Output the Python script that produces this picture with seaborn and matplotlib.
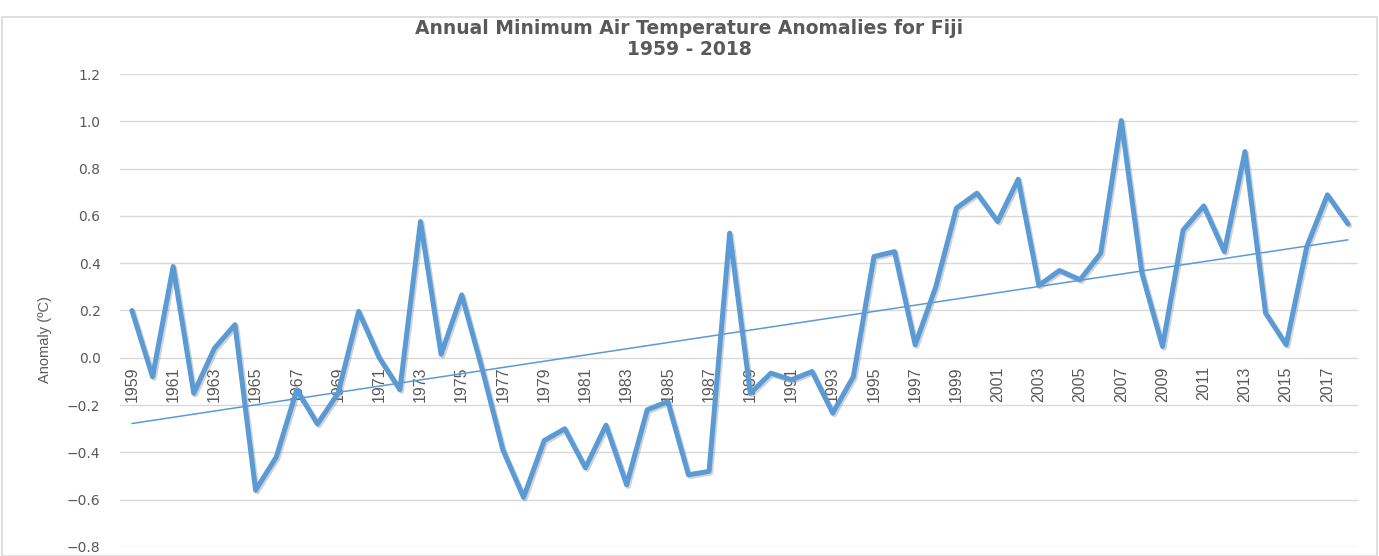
import matplotlib
matplotlib.use("Agg")
import matplotlib.pyplot as plt
import matplotlib.patheffects as pe
import numpy as np
import pandas as pd
import seaborn as sns

years = list(range(1959, 2019))
anomaly = [
    0.20, -0.08, 0.386, -0.15, 0.04, 0.14, -0.56, -0.42, -0.135, -0.28,
    -0.15, 0.196, 0.00, -0.135, 0.576, 0.015, 0.266, -0.05, -0.39, -0.59,
    -0.35, -0.30, -0.465, -0.285, -0.537, -0.22, -0.185, -0.495, -0.48, 0.527,
    -0.15, -0.065, -0.093, -0.058, -0.234, -0.08, 0.428, 0.449, 0.055, 0.30,
    0.633, 0.696, 0.576, 0.755, 0.306, 0.369, 0.33, 0.442, 1.003, 0.358,
    0.048, 0.54, 0.642, 0.449, 0.872, 0.189, 0.055, 0.47, 0.689, 0.566,
]
y_ticks = [1.2, 1.0, 0.8, 0.6, 0.4, 0.2, 0.0, -0.2, -0.4, -0.6, -0.8]
x_labels = years[::2]

BLUE = "#5B9BD5"
GREY = "#595959"
NARROW = ["Liberation Sans Narrow", "Liberation Sans", "DejaVu Sans"]


def main():
    df = pd.DataFrame({"Year": years, "Anomaly": anomaly})
    slope, icpt = np.polyfit(df["Year"], df["Anomaly"], 1)
    df["Trend"] = slope * df["Year"] + icpt

    sns.set_style("white")
    fig = plt.figure(figsize=(13.79, 5.56), dpi=100)
    ax = fig.add_axes([0.087, 0.0162, 0.898, 0.8507])

    sns.lineplot(data=df, x="Year", y="Anomaly", ax=ax, color=BLUE,
                 linewidth=3.6, zorder=3,
                 path_effects=[pe.SimpleLineShadow(offset=(1.2, -1.2),
                                                   alpha=0.35, shadow_color="gray"),
                               pe.Normal()])
    sns.lineplot(data=df, x="Year", y="Trend", ax=ax, color=BLUE,
                 linewidth=1.1, zorder=4)

    ax.set_xlim(1958.42, 2018.5)
    ax.set_ylim(-0.8, 1.2)
    ax.set_yticks(y_ticks)
    ax.set_yticklabels([f"{v:.1f}".replace("-", "\u2212") if v < 0 else f"{v:.1f}"
                        for v in y_ticks])
    ax.grid(axis="y", color="#D9D9D9", linewidth=1.0)
    ax.set_axisbelow(True)

    for s in ax.spines.values():
        s.set_visible(False)
    ax.spines["bottom"].set_position(("data", 0))

    ax.set_xticks(x_labels)
    ax.set_xticklabels([str(y) for y in x_labels], rotation=90,
                       family=NARROW, fontsize=11.5, color=GREY)
    ax.tick_params(axis="x", length=0, pad=6)
    ax.tick_params(axis="y", length=0, pad=14, labelsize=10, labelcolor=GREY)

    ax.set_xlabel("")
    ax.set_ylabel("Anomaly (\u00baC)", family=NARROW, fontsize=10.5, color=GREY)
    ax.yaxis.set_label_coords(-0.055, 0.4376)

    fig.text(0.5, 0.966, "Annual Minimum Air Temperature Anomalies for Fiji\n1959 - 2018",
             ha="center", va="top", fontsize=13.5, fontweight="bold", color=GREY,
             linespacing=1.15)

    # light frame of the chart area
    fig.patches.append(plt.Rectangle((0.0015, 0.0), 0.997, 0.969, fill=False,
                                     edgecolor="#D9D9D9", linewidth=1.2,
                                     transform=fig.transFigure, figure=fig))

    fig.savefig("out.png", dpi=100)
    plt.close(fig)


if __name__ == "__main__":
    main()
